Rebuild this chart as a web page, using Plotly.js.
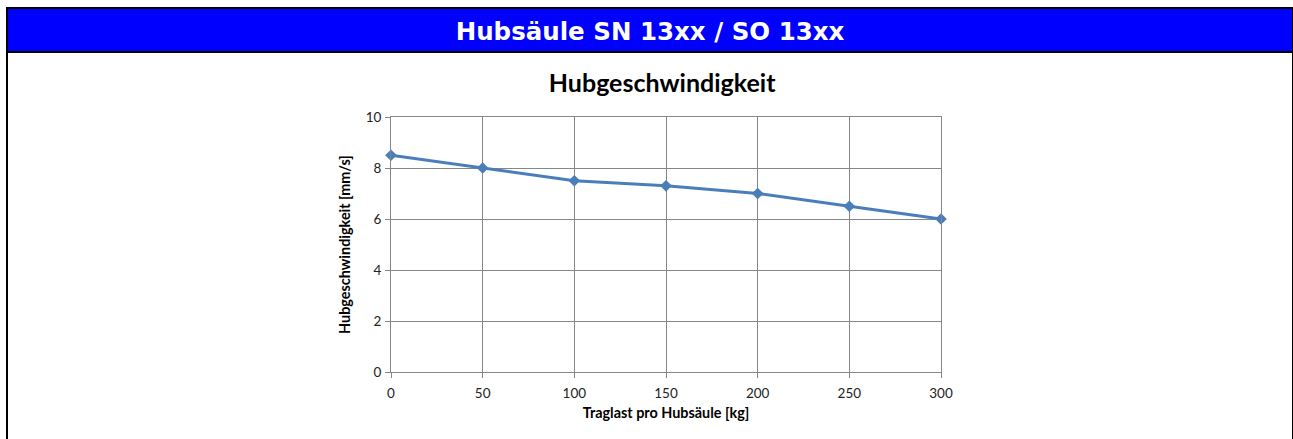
<!DOCTYPE html>
<html>
<head>
<meta charset="utf-8">
<script src="https://cdn.plot.ly/plotly-3.0.1.min.js"></script>
<style>
  html, body { margin: 0; padding: 0; width: 1293px; height: 439px; overflow: hidden; background: #fff; }
  #frame { position: absolute; left: 6px; top: 7px; width: 1288px; height: 500px; box-sizing: border-box;
           border-left: 2px solid #000; border-top: 2px solid #000; border-right: 2px solid #000; }
  #header { position: absolute; left: 0; top: 0; right: 0; height: 42px; background: #0000ff;
            border-bottom: 2px solid #000; color: #fff; font-family: "DejaVu Sans", sans-serif;
            font-weight: bold; font-size: 24.5px; text-align: center; line-height: 45px; }
  #chart { position: absolute; left: 0; top: 0; width: 1293px; height: 439px; }
</style>
</head>
<body>
<div id="frame"><div id="header">Hubsäule SN 13xx / SO 13xx</div></div>
<div id="chart"></div>
<script>
const pageTitle = "Hubsäule SN 13xx / SO 13xx";
const chartTitle = "Hubgeschwindigkeit";
const xTitle = "Traglast pro Hubsäule [kg]";
const yTitle = "Hubgeschwindigkeit [mm/s]";
const loads = [0, 50, 100, 150, 200, 250, 300];
const speeds = [8.5, 8.0, 7.5, 7.3, 7.0, 6.5, 6.0];
const xTicks = [0, 50, 100, 150, 200, 250, 300];
const yTicks = [0, 2, 4, 6, 8, 10];

const gridC = '#868686';
const txtFont = 'Lato, "Open Sans", sans-serif';

const trace = {
  x: loads, y: speeds, type: 'scatter', mode: 'lines+markers',
  line: { color: '#4a7ebb', width: 3 },
  marker: { symbol: 'diamond', size: 9, color: '#4a7ebb' },
  cliponaxis: false, hoverinfo: 'skip'
};

const layout = {
  width: 1293, height: 439,
  margin: { l: 391, r: 352, t: 117, b: 67, pad: 0 },
  paper_bgcolor: 'rgba(0,0,0,0)', plot_bgcolor: '#fff',
  showlegend: false,
  title: { text: '<b>' + chartTitle + '</b>', x: 0.493, xref: 'paper', xanchor: 'center',
           y: 1 - 83 / 439, yref: 'container', yanchor: 'middle',
           font: { family: txtFont, size: 25, color: '#000' } },
  xaxis: {
    range: [0, 300], tickvals: xTicks, ticktext: xTicks.map(String),
    showgrid: true, gridcolor: gridC, gridwidth: 1,
    showline: true, linecolor: gridC, linewidth: 1, mirror: true,
    ticks: 'outside', ticklen: 5, tickcolor: gridC, tickwidth: 1, ticklabelstandoff: 4,
    zeroline: false, tickfont: { family: txtFont, size: 13.5, color: '#222' },
    title: { text: '<b>' + xTitle + '</b>', standoff: 7, font: { family: txtFont, size: 14.4, color: '#000' } },
    automargin: false, fixedrange: true
  },
  yaxis: {
    range: [0, 10], tickvals: yTicks, ticktext: yTicks.map(String),
    showgrid: true, gridcolor: gridC, gridwidth: 1,
    showline: true, linecolor: gridC, linewidth: 1, mirror: true,
    ticks: 'outside', ticklen: 5, tickcolor: gridC, tickwidth: 1, ticklabelstandoff: 1,
    zeroline: false, tickfont: { family: txtFont, size: 13.5, color: '#222' },
    title: { text: '<b>' + yTitle + '</b>', standoff: 11, font: { family: txtFont, size: 14.4, color: '#000' } },
    automargin: false, fixedrange: true
  }
};

Plotly.newPlot('chart', [trace], layout, { displayModeBar: false, staticPlot: true });
</script>
</body>
</html>
